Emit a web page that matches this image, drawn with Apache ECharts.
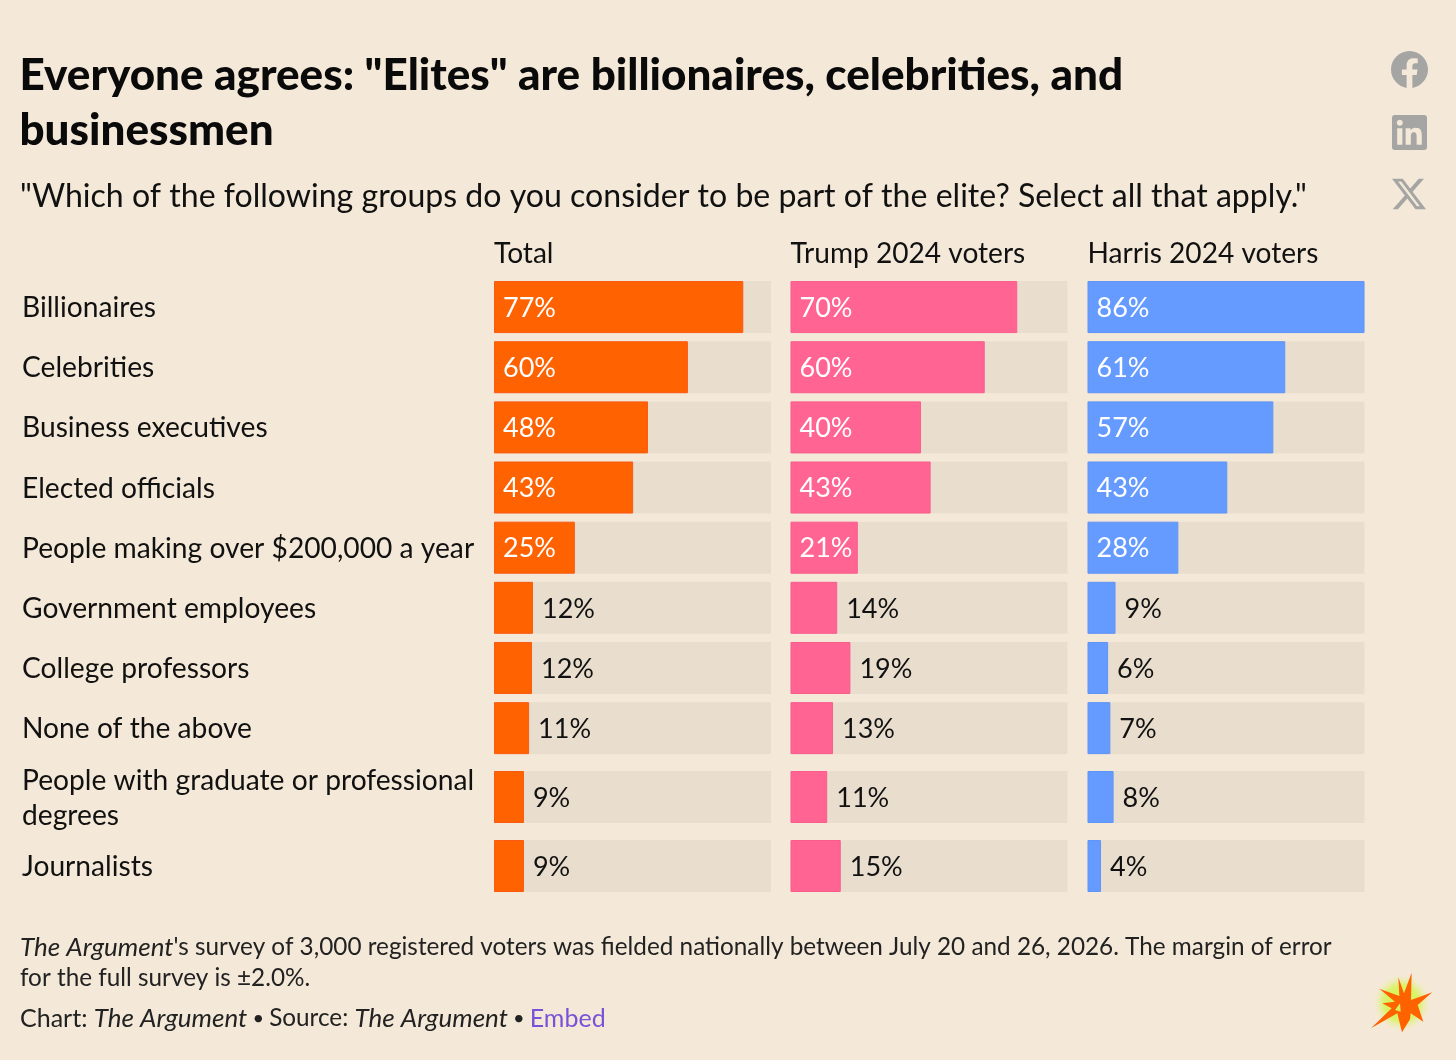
<!DOCTYPE html>
<html><head><meta charset="utf-8">
<style>html,body{margin:0;padding:0;background:#f4e9d8}#c{width:1456px;height:1060px}</style>
<script src="https://cdn.jsdelivr.net/npm/echarts@6/dist/echarts.min.js"></script>
</head><body><div id="c"></div>
<script>
const categories = ["Billionaires","Celebrities","Business executives","Elected officials","People making over $200,000 a year","Government employees","College professors","None of the above","People with graduate or professional\ndegrees","Journalists"];
const columns = ["Total","Trump 2024 voters","Harris 2024 voters"];
const totalLabels = [77,60,48,43,25,12,12,11,9,9];
const trumpLabels = [70,60,40,43,21,14,19,13,11,15];
const harrisLabels = [86,61,57,43,28,9,6,7,8,4];
const totalValues = [77.4,60.2,47.8,43.2,25.1,12.1,11.8,10.9,9.3,9.3];
const trumpValues = [70.4,60.3,40.5,43.5,20.9,14.5,18.6,13.2,11.4,15.6];
const harrisValues = [86,61.4,57.7,43.4,28.2,8.7,6.4,7.1,8.1,4.2];
const axisMax = 86;

const FONT = 'Lato';
const colColors = ['#ff6200','#ff6493','#659bff'];
const colEdges = ['#fb5a12','#fb5c8c','#5f94f8'];
const colLeft = [494,790.5,1087.5];
const colWidth = 277;
const blocks = [{top:277,height:481.2,from:0,to:8},{top:762.5,height:138,from:8,to:10}];
const allValues = [totalValues,trumpValues,harrisValues];
const allLabels = [totalLabels,trumpLabels,harrisLabels];

const grid=[],xAxis=[],yAxis=[],series=[];
columns.forEach((name,c)=>{
  blocks.forEach(b=>{
    const i=grid.length;
    grid.push({left:colLeft[c],top:b.top,width:colWidth,height:b.height});
    xAxis.push({type:'value',gridIndex:i,min:0,max:axisMax,show:false});
    yAxis.push({type:'category',gridIndex:i,inverse:true,data:categories.slice(b.from,b.to),
      axisLine:{show:false},axisTick:{show:false},
      axisLabel:{show:c===0,align:'left',margin:colLeft[0]-22,
        formatter:v=>v.split('\n').map(s=>'{a|'+s+'}').join('\n'),
        rich:{a:{fontFamily:FONT,fontSize:28.2,color:'#111',lineHeight:35,padding:[2,0,0,0]}}}});
    series.push({type:'bar',xAxisIndex:i,yAxisIndex:i,barWidth:52,silent:true,
      showBackground:true,backgroundStyle:{color:'#e9dece'},
      itemStyle:{color:colColors[c],borderColor:colEdges[c],borderWidth:1},
      data:allValues[c].slice(b.from,b.to).map((v,k)=>{
        const lab=allLabels[c][b.from+k], inside=v>20;
        return {value:v,label:{show:true,formatter:lab+'%',position:inside?'insideLeft':'right',
          distance:9,offset:[0,1],color:inside?'#fff':'#111',fontFamily:FONT,fontSize:27,fontWeight:'normal'}};
      })});
  });
});

const plain={fontFamily:FONT,fontWeight:'normal',fontSize:24.3,color:'#222',lineHeight:31};
const ital={...plain,fontStyle:'italic',fontSize:26};
const title=[
 {text:'Everyone agrees: "Elites" are billionaires, celebrities, and\nbusinessmen',left:19.5,top:49,padding:0,
  textStyle:{fontFamily:FONT,fontSize:44,fontWeight:900,color:'#0a0a0a',lineHeight:54.5}},
 {text:'"Which of the following groups do you consider to be part of the elite? Select all that apply."',left:20,top:178,padding:0,
  textStyle:{fontFamily:FONT,fontSize:32.08,fontWeight:'normal',color:'#111',lineHeight:38}},
 ...columns.map((n,c)=>({text:n,left:colLeft[c],top:237,padding:0,textStyle:{fontFamily:FONT,fontSize:28.1,fontWeight:'normal',color:'#111',lineHeight:34}})),
 {text:"{i|The Argument}{n|'s survey of 3,000 registered voters was fielded nationally between July 20 and 26, 2026. The margin of error}\n{n|for the full survey is ±2.0%.}",left:20,top:932,padding:0,
  textStyle:{fontWeight:'normal',rich:{i:ital,n:plain}}},
 {text:"{c|Chart: }{i|The Argument}{b| • }{n|Source: }{i|The Argument}{b| • }{e|Embed}",left:20,top:1003,padding:0,
  textStyle:{fontWeight:'normal',rich:{i:ital,n:plain,c:{...plain,fontSize:25},b:{...plain,fontSize:20},e:{...plain,fontSize:25,color:'#7a52d8'}}}}
];

const iconFill='#a5a5a3';
const burst=[[215,68],[213,150],[277,127],[233,165],[250,215],[212,190],[210,208],[186,247],[172,190],[93,235],[155,175],[127,160],[165,155],[118,116],[178,138],[175,82],[192,130]];
const burstHole=[[180,160],[182,185],[165,180]];
const place=p=>[1340+p[0]/3,950+p[1]/3];
series.push({type:'custom',coordinateSystem:'none',silent:true,data:[0],
  renderItem:()=>({type:'group',children:[
   {type:'path',shape:{pathData:'M24 12.073c0-6.627-5.373-12-12-12s-12 5.373-12 12c0 5.99 4.388 10.954 10.125 11.854v-8.385H7.078v-3.47h3.047V9.43c0-3.007 1.792-4.669 4.533-4.669 1.312 0 2.686.235 2.686.235v2.953H15.83c-1.491 0-1.956.925-1.956 1.874v2.25h3.328l-.532 3.47h-2.796v8.385C19.612 23.027 24 18.062 24 12.073z',x:1391,y:51,width:37,height:37},style:{fill:iconFill}},
   {type:'path',shape:{pathData:'M20.447 20.452h-3.554v-5.569c0-1.328-.027-3.037-1.852-3.037-1.853 0-2.136 1.445-2.136 2.939v5.667H9.351V9h3.414v1.561h.046c.477-.9 1.637-1.85 3.37-1.85 3.601 0 4.267 2.37 4.267 5.455v6.286zM5.337 7.433c-1.144 0-2.063-.926-2.063-2.065 0-1.138.92-2.063 2.063-2.063 1.14 0 2.064.925 2.064 2.063 0 1.139-.925 2.065-2.064 2.065zm1.782 13.019H3.555V9h3.564v11.452zM22.225 0H1.771C.792 0 0 .774 0 1.729v20.542C0 23.227.792 24 1.771 24h20.451C23.2 24 24 23.227 24 22.271V1.729C24 .774 23.2 0 22.222 0h.003z',x:1392,y:115,width:35,height:35},style:{fill:iconFill}},
   {type:'path',shape:{pathData:'M18.901 1.153h3.68l-8.04 9.19L24 22.846h-7.406l-5.8-7.584-6.638 7.584H.474l8.6-9.83L0 1.154h7.594l5.243 6.932ZM17.61 20.644h2.039L6.486 3.24H4.298Z',x:1392,y:178,width:34,height:32},style:{fill:iconFill}},
   {type:'circle',shape:{cx:1401.7,cy:1003,r:30},style:{fill:{type:'radial',x:.5,y:.5,r:.5,colorStops:[{offset:0,color:'#d2f53c'},{offset:.6,color:'#dcf26e'},{offset:1,color:'rgba(244,233,216,0)'}]}}},
   {type:'polygon',shape:{points:burst.map(place)},style:{fill:'#ff6200'}},
   {type:'polygon',shape:{points:burstHole.map(place)},style:{fill:'#d8f060'}}
  ]})});

echarts.init(document.getElementById('c'),null,{renderer:'canvas'}).setOption({
  animation:false,backgroundColor:'#f4e9d8',title,grid,xAxis,yAxis,series
});
</script></body></html>
